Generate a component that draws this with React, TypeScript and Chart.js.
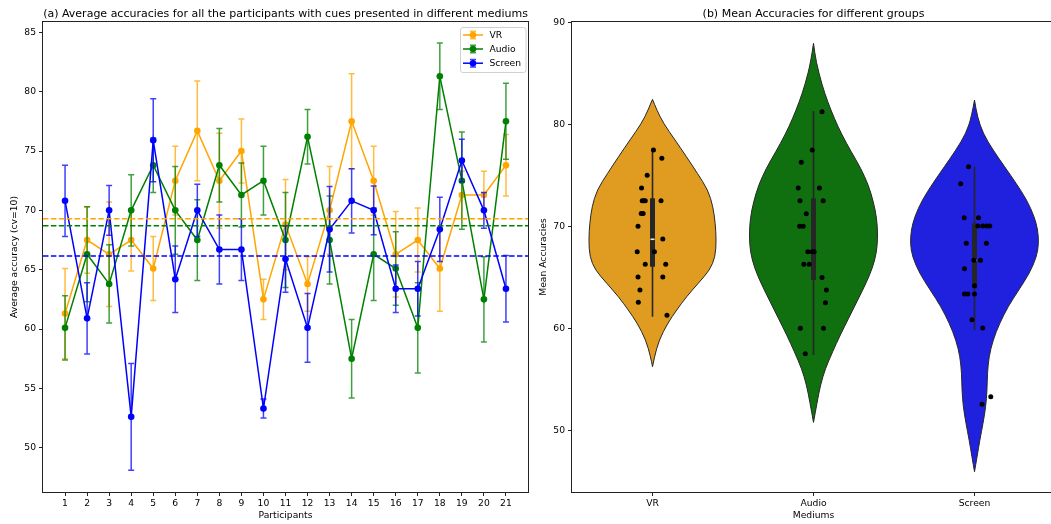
import React, { useEffect, useRef } from 'react';
import { Chart, registerables } from 'chart.js';

Chart.register(...registerables);

const FONT = "'DejaVu Sans', sans-serif";
const TEXT = '#000000';
const ORANGE = '#FFA500';
const GREEN = '#008000';
const BLUE = '#0000FF';

// ---------- (a) per-participant accuracies ----------
const participants = [1, 2, 3, 4, 5, 6, 7, 8, 9, 10, 11, 12, 13, 14, 15, 16, 17, 18, 19, 20, 21];
const vrAcc = [61.3, 67.5, 66.3, 67.5, 65.1, 72.5, 76.7, 72.5, 75.0, 62.5, 68.8, 63.8, 70.0, 77.5, 72.5, 66.3, 67.5, 65.1, 71.3, 71.3, 73.8];
const vrErr = [3.8, 2.8, 4.4, 2.6, 2.7, 2.9, 4.2, 4.0, 2.7, 1.7, 3.8, 2.3, 3.7, 4.0, 2.9, 3.6, 2.7, 3.6, 2.0, 2.0, 2.6];
const audioAcc = [60.1, 66.3, 63.8, 70.0, 73.8, 70.0, 67.5, 73.8, 71.3, 72.5, 67.5, 76.2, 67.5, 57.5, 66.3, 65.1, 60.1, 81.3, 72.5, 62.5, 77.5];
const audioErr = [2.7, 4.0, 3.3, 3.0, 2.3, 3.7, 3.4, 3.1, 2.7, 2.9, 4.0, 2.3, 3.7, 3.3, 3.9, 3.1, 3.8, 2.8, 4.1, 3.6, 3.2];
const screenAcc = [70.8, 60.9, 70.0, 52.6, 75.9, 64.2, 70.0, 66.7, 66.7, 53.3, 65.9, 60.1, 68.4, 70.8, 70.0, 63.4, 63.4, 68.4, 74.2, 70.0, 63.4];
const screenErr = [3.0, 3.0, 2.1, 4.5, 3.5, 2.8, 2.2, 2.9, 2.6, 0.8, 2.8, 2.9, 3.6, 2.7, 2.05, 2.0, 2.3, 2.7, 1.8, 1.5, 2.8];
const groupMeans = [69.3, 68.7, 66.15]; // VR, Audio, Screen
const seriesNames = ['VR', 'Audio', 'Screen'];

// ---------- (b) violins ----------
const groups = ['VR', 'Audio', 'Screen'];
const vrViolinVals = [82.48, 81.43, 80.13, 78.49, 76.85, 75.22, 73.58, 71.94, 70.31, 68.67, 67.04, 65.73, 64.43, 63.11, 61.81, 60.5, 58.86, 57.22, 56.24];
const vrViolinHalf = [0, 0.027, 0.068, 0.14, 0.211, 0.279, 0.345, 0.376, 0.39, 0.396, 0.39, 0.356, 0.284, 0.211, 0.15, 0.094, 0.041, 0.012, 0];
const audioViolinVals = [87.98, 86.18, 83.89, 82.25, 80.62, 78.98, 77.34, 75.71, 74.07, 72.44, 70.8, 69.17, 67.53, 65.9, 64.26, 62.62, 60.99, 59.35, 57.72, 56.08, 54.44, 52.81, 50.78];
const audioViolinHalf = [0, 0.016, 0.053, 0.088, 0.129, 0.177, 0.234, 0.294, 0.341, 0.372, 0.393, 0.399, 0.393, 0.366, 0.321, 0.269, 0.218, 0.166, 0.119, 0.074, 0.043, 0.023, 0];
const screenViolinVals = [82.41, 80.78, 79.14, 77.51, 75.87, 74.24, 72.6, 70.96, 69.66, 68.35, 67.04, 65.4, 63.77, 62.13, 60.5, 58.86, 57.23, 55.59, 53.96, 52.32, 50.68, 49.05, 47.41, 45.94];
const screenViolinHalf = [0, 0.018, 0.053, 0.115, 0.187, 0.259, 0.325, 0.372, 0.393, 0.399, 0.386, 0.341, 0.275, 0.208, 0.156, 0.115, 0.09, 0.08, 0.078, 0.07, 0.053, 0.033, 0.016, 0];

const boxQ1 = [66.06, 64.75, 63.94];
const boxQ3 = [72.77, 72.77, 70.31];
const whiskerLo = [61.15, 57.39, 59.84];
const whiskerHi = [77.58, 81.33, 75.87];
const boxMedian = [68.75, 67.5, 66.68];

const vrStripVals = [77.51, 76.69, 75.02, 73.78, 72.53, 72.53, 72.53, 72.53, 71.29, 71.29, 70.02, 68.77, 67.53, 67.53, 66.29, 66.29, 65.04, 65.04, 63.77, 62.56, 61.29];
const vrStripJitter = [0.006, 0.058, -0.033, -0.068, -0.064, -0.054, -0.045, 0.053, -0.07, -0.058, -0.09, 0.064, -0.095, 0.012, -0.045, 0.082, -0.09, 0.064, -0.078, -0.088, 0.09];
const audioStripVals = [81.27, 77.51, 76.3, 73.78, 73.78, 72.53, 72.53, 71.26, 70.02, 70.02, 67.53, 67.53, 67.53, 66.29, 66.29, 65.01, 63.77, 62.53, 60.01, 60.01, 57.52];
const audioStripJitter = [0.053, -0.008, -0.076, -0.095, 0.037, -0.084, 0.06, -0.045, -0.086, -0.064, -0.035, -0.008, 0.004, -0.06, -0.027, 0.053, 0.08, 0.074, -0.082, 0.062, -0.051];
const screenStripVals = [75.87, 74.2, 70.87, 70.87, 70.05, 70.05, 70.05, 70.05, 68.35, 68.35, 66.68, 66.68, 65.86, 64.19, 63.38, 63.38, 63.38, 60.86, 60.04, 53.3, 52.55];
const screenStripJitter = [-0.037, -0.086, -0.064, 0.025, 0.021, 0.051, 0.076, 0.095, -0.051, 0.074, -0.004, 0.037, -0.062, 0, -0.062, -0.041, 0, -0.016, 0.051, 0.101, 0.047];

const violinFill = ['#DF9C20', '#107010', '#2020DF'];
const INNER = '#262626';

const LABEL_SIZE = 9.2;
const TITLE_SIZE = 11;

function font(size: number) {
  return `${size}px ${FONT}`;
}

function rgba(hex: string, a: number) {
  const n = parseInt(hex.slice(1), 16);
  return `rgba(${(n >> 16) & 255},${(n >> 8) & 255},${n & 255},${a})`;
}

const errorBarPlugin = {
  id: 'errorBars',
  beforeDatasetDraw(chart: any, args: any) {
    const ds: any = chart.data.datasets[args.index];
    if (!ds.errors) return;
    const { ctx } = chart;
    const xs = chart.scales.x;
    const ys = chart.scales.y;
    ctx.save();
    ctx.strokeStyle = rgba(ds.borderColor, 0.75);
    ctx.lineWidth = 1.5;
    ds.data.forEach((pt: any, i: number) => {
      const x = xs.getPixelForValue(pt.x);
      const y1 = ys.getPixelForValue(pt.y - ds.errors[i]);
      const y2 = ys.getPixelForValue(pt.y + ds.errors[i]);
      ctx.beginPath();
      ctx.moveTo(x, y1);
      ctx.lineTo(x, y2);
      ctx.moveTo(x - 3, y1);
      ctx.lineTo(x + 3, y1);
      ctx.moveTo(x - 3, y2);
      ctx.lineTo(x + 3, y2);
      ctx.stroke();
    });
    ctx.restore();
  },
};

const leftDecorPlugin = {
  id: 'leftDecor',
  afterDraw(chart: any) {
    const { ctx, chartArea: a } = chart;
    ctx.save();
    // frame
    ctx.strokeStyle = '#222';
    ctx.lineWidth = 1;
    ctx.strokeRect(a.left - 0.5, a.top - 0.5, a.right - a.left + 1, a.bottom - a.top + 1);
    // title
    ctx.fillStyle = TEXT;
    ctx.font = font(TITLE_SIZE);
    ctx.textAlign = 'center';
    ctx.textBaseline = 'alphabetic';
    ctx.fillText(
      '(a) Average accuracies for all the participants with cues presented in different mediums',
      (a.left + a.right) / 2,
      16.5
    );
    // axis titles
    ctx.font = font(LABEL_SIZE);
    ctx.textBaseline = 'middle';
    ctx.fillText('Participants', (a.left + a.right) / 2, 516);
    ctx.save();
    ctx.translate(15, (a.top + a.bottom) / 2);
    ctx.rotate(-Math.PI / 2);
    ctx.fillText('Average accuracy (cv=10)', 0, 0);
    ctx.restore();
    // legend
    const lx = 460.5, ly = 27.5, lw = 65.5, lh = 45;
    ctx.beginPath();
    (ctx as any).roundRect ? ctx.roundRect(lx, ly, lw, lh, 2.5) : ctx.rect(lx, ly, lw, lh);
    ctx.fillStyle = 'rgba(255,255,255,0.8)';
    ctx.fill();
    ctx.strokeStyle = '#d0d0d0';
    ctx.lineWidth = 1;
    ctx.stroke();
    const colors = [ORANGE, GREEN, BLUE];
    const rows = [35, 49, 63.2];
    seriesNames.forEach((name, i) => {
      const y = rows[i];
      const c = colors[i];
      ctx.strokeStyle = rgba(c, 0.75);
      ctx.lineWidth = 1.5;
      ctx.beginPath();
      ctx.moveTo(473, y - 3.8);
      ctx.lineTo(473, y + 3.8);
      ctx.moveTo(470, y - 3.8);
      ctx.lineTo(476, y - 3.8);
      ctx.moveTo(470, y + 3.8);
      ctx.lineTo(476, y + 3.8);
      ctx.stroke();
      ctx.strokeStyle = c;
      ctx.beginPath();
      ctx.moveTo(463, y);
      ctx.lineTo(483, y);
      ctx.stroke();
      ctx.fillStyle = c;
      ctx.beginPath();
      ctx.arc(473, y, 3.3, 0, Math.PI * 2);
      ctx.fill();
      ctx.fillStyle = TEXT;
      ctx.font = font(LABEL_SIZE);
      ctx.textAlign = 'left';
      ctx.textBaseline = 'middle';
      ctx.fillText(name, 489.5, y + 0.5);
    });
    ctx.restore();
  },
};

function smoothSide(ctx: CanvasRenderingContext2D, pts: number[][], first: boolean) {
  if (first) ctx.moveTo(pts[0][0], pts[0][1]);
  else ctx.lineTo(pts[0][0], pts[0][1]);
  for (let i = 1; i < pts.length - 1; i++) {
    const mx = (pts[i][0] + pts[i + 1][0]) / 2;
    const my = (pts[i][1] + pts[i + 1][1]) / 2;
    ctx.quadraticCurveTo(pts[i][0], pts[i][1], mx, my);
  }
  const last = pts[pts.length - 1];
  ctx.lineTo(last[0], last[1]);
}

const violinPlugin = {
  id: 'violins',
  beforeDatasetsDraw(chart: any) {
    const { ctx } = chart;
    const xs = chart.scales.x;
    const ys = chart.scales.y;
    const shapes = [
      [vrViolinVals, vrViolinHalf],
      [audioViolinVals, audioViolinHalf],
      [screenViolinVals, screenViolinHalf],
    ];
    ctx.save();
    shapes.forEach(([vals, half], g) => {
      const left = vals.map((v, i) => [xs.getPixelForValue(g - half[i]), ys.getPixelForValue(v)]);
      const right = vals.map((v, i) => [xs.getPixelForValue(g + half[i]), ys.getPixelForValue(v)]).reverse();
      ctx.beginPath();
      smoothSide(ctx, left, true);
      smoothSide(ctx, right, false);
      ctx.closePath();
      ctx.fillStyle = violinFill[g];
      ctx.fill();
      ctx.strokeStyle = INNER;
      ctx.lineWidth = 1;
      ctx.stroke();

      const cx = xs.getPixelForValue(g);
      ctx.strokeStyle = INNER;
      ctx.lineWidth = 1.6;
      ctx.beginPath();
      ctx.moveTo(cx, ys.getPixelForValue(whiskerLo[g]));
      ctx.lineTo(cx, ys.getPixelForValue(whiskerHi[g]));
      ctx.stroke();
      const q3y = ys.getPixelForValue(boxQ3[g]);
      const q1y = ys.getPixelForValue(boxQ1[g]);
      ctx.fillStyle = INNER;
      ctx.fillRect(cx - 2.5, q3y, 5, q1y - q3y);
      const my = ys.getPixelForValue(boxMedian[g]);
      ctx.fillStyle = '#e8e8e8';
      ctx.fillRect(cx - 2, my - 0.8, 4, 1.6);
    });
    ctx.restore();
  },
};

const rightDecorPlugin = {
  id: 'rightDecor',
  afterDraw(chart: any) {
    const { ctx, chartArea: a } = chart;
    ctx.save();
    ctx.strokeStyle = '#222';
    ctx.lineWidth = 1;
    ctx.strokeRect(a.left - 0.5, a.top - 0.5, a.right - a.left + 1, a.bottom - a.top + 1);
    ctx.fillStyle = TEXT;
    ctx.font = font(TITLE_SIZE);
    ctx.textAlign = 'center';
    ctx.textBaseline = 'alphabetic';
    ctx.fillText('(b) Mean Accuracies for different groups', (a.left + a.right) / 2, 16.5);
    ctx.font = font(LABEL_SIZE);
    ctx.textBaseline = 'middle';
    ctx.fillText('Mediums', (a.left + a.right) / 2, 516);
    ctx.save();
    ctx.translate(12, (a.top + a.bottom) / 2);
    ctx.rotate(-Math.PI / 2);
    ctx.fillText('Mean Accuracies', 0, 0);
    ctx.restore();
    ctx.restore();
  },
};

function axisCommon() {
  return {
    grid: { display: true, drawOnChartArea: false, drawTicks: true, tickLength: 4, color: '#222', lineWidth: 1 },
    border: { display: false },
    ticks: { color: TEXT, font: { family: FONT, size: LABEL_SIZE }, padding: 2, maxRotation: 0, autoSkip: false },
  };
}

function leftConfig(): any {
  const pts = (vals: number[]) => participants.map((p, i) => ({ x: p, y: vals[i] }));
  const meanLine = (m: number, c: string) => ({
    data: [{ x: 0, y: m }, { x: 22, y: m }],
    borderColor: c,
    borderWidth: 1.5,
    borderDash: [5.5, 2.4],
    pointRadius: 0,
    showLine: true,
    order: 0,
  });
  const series = (label: string, vals: number[], errs: number[], c: string, order: number) => ({
    label,
    data: pts(vals),
    errors: errs,
    borderColor: c,
    backgroundColor: c,
    borderWidth: 1.5,
    pointRadius: 3.3,
    pointBorderWidth: 0,
    pointBackgroundColor: c,
    showLine: true,
    tension: 0,
    order,
  });
  return {
    type: 'scatter',
    data: {
      datasets: [
        meanLine(groupMeans[0], ORANGE),
        meanLine(groupMeans[1], GREEN),
        meanLine(groupMeans[2], BLUE),
        series('VR', vrAcc, vrErr, ORANGE, 3),
        series('Audio', audioAcc, audioErr, GREEN, 2),
        series('Screen', screenAcc, screenErr, BLUE, 1),
      ],
    },
    options: {
      animation: false,
      responsive: false,
      devicePixelRatio: 1,
      layout: { padding: { left: 0, right: 1.5, top: 22, bottom: 0 } },
      plugins: { legend: { display: false }, tooltip: { enabled: false }, title: { display: false } },
      scales: {
        x: {
          ...axisCommon(),
          type: 'linear',
          min: 0,
          max: 22,
          afterBuildTicks: (s: any) => {
            s.ticks = participants.map((v) => ({ value: v }));
          },
          afterFit: (s: any) => {
            s.height = 32;
          },
        },
        y: {
          ...axisCommon(),
          type: 'linear',
          min: 46.27,
          max: 85.87,
          ticks: { ...axisCommon().ticks, padding: 3, stepSize: 5, includeBounds: false },
          afterFit: (s: any) => {
            s.width = 43;
          },
        },
      },
    },
    plugins: [errorBarPlugin, leftDecorPlugin],
  };
}

function rightConfig(): any {
  const strip = (vals: number[], jit: number[], g: number) => vals.map((v, i) => ({ x: g + jit[i], y: v }));
  const stripDs = (vals: number[], jit: number[], g: number) => ({
    data: strip(vals, jit, g),
    pointRadius: 2.5,
    pointBorderWidth: 0,
    pointBackgroundColor: '#000',
    backgroundColor: '#000',
    showLine: false,
  });
  return {
    type: 'scatter',
    data: {
      datasets: [
        stripDs(vrStripVals, vrStripJitter, 0),
        stripDs(audioStripVals, audioStripJitter, 1),
        stripDs(screenStripVals, screenStripJitter, 2),
      ],
    },
    options: {
      animation: false,
      responsive: false,
      devicePixelRatio: 1,
      layout: { padding: { left: 0, right: 0, top: 22, bottom: 0 } },
      plugins: { legend: { display: false }, tooltip: { enabled: false }, title: { display: false } },
      scales: {
        x: {
          ...axisCommon(),
          type: 'linear',
          min: -0.5,
          max: 2.5,
          afterBuildTicks: (s: any) => {
            s.ticks = groups.map((_, i) => ({ value: i }));
          },
          ticks: { ...axisCommon().ticks, callback: (v: any) => groups[Math.round(Number(v))] ?? '' },
          afterFit: (s: any) => {
            s.height = 32;
          },
        },
        y: {
          ...axisCommon(),
          type: 'linear',
          min: 43.95,
          max: 90.07,
          ticks: { ...axisCommon().ticks, padding: 3, stepSize: 10, includeBounds: false },
          afterFit: (s: any) => {
            s.width = 40;
          },
        },
      },
    },
    plugins: [violinPlugin, rightDecorPlugin],
  };
}

export default function App() {
  const leftRef = useRef<HTMLCanvasElement>(null);
  const rightRef = useRef<HTMLCanvasElement>(null);
  useEffect(() => {
    const c1 = new Chart(leftRef.current as HTMLCanvasElement, leftConfig());
    const c2 = new Chart(rightRef.current as HTMLCanvasElement, rightConfig());
    return () => {
      c1.destroy();
      c2.destroy();
    };
  }, []);
  return (
    <div
      style={{
        position: 'fixed',
        left: 0,
        top: 0,
        width: 1051,
        height: 524,
        overflow: 'hidden',
        background: '#ffffff',
      }}
    >
      <canvas
        ref={leftRef}
        width={532}
        height={524}
        style={{ position: 'absolute', left: 0, top: 0, width: 532, height: 524 }}
      />
      <canvas
        ref={rightRef}
        width={527}
        height={524}
        style={{ position: 'absolute', left: 532, top: 0, width: 527, height: 524 }}
      />
    </div>
  );
}
